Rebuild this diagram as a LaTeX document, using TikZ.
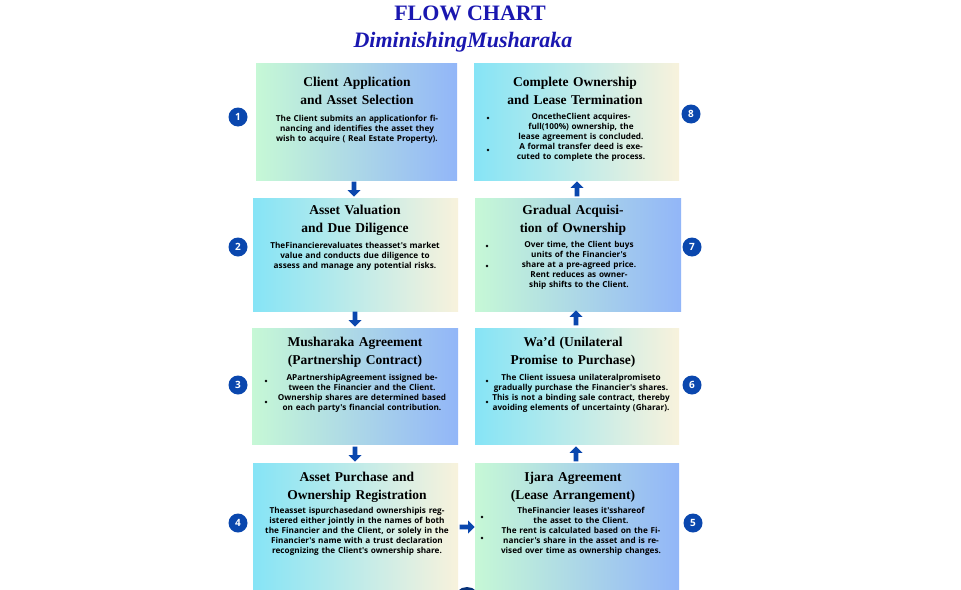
\documentclass[tikz,border=0pt]{standalone}
\usepackage{fontspec}
\setmainfont{Liberation Serif}
\newfontfamily\bodyf{Open Sans}
\usetikzlibrary{shapes.arrows}
\definecolor{gA}{HTML}{C6F8D6}
\definecolor{bA}{HTML}{92B6F8}
\definecolor{cA}{HTML}{86E4F6}
\definecolor{yA}{HTML}{F8F2DC}
\definecolor{navy}{HTML}{0A47AE}
\definecolor{ttl}{HTML}{1A17B0}
\begin{document}
\begin{tikzpicture}[x=1pt,y=-1pt,
 gb/.style={left color=gA,right color=bA},
 cy/.style={left color=cA,right color=yA},
 box/.style={draw=none,inner sep=0,anchor=north west},
 head/.style={anchor=north,align=center,font=\bfseries\fontsize{13.5}{18}\selectfont,text width=195pt,inner sep=0},
 body/.style={anchor=north,align=center,font=\bodyf\bfseries\fontsize{8.2}{10}\selectfont,text width=#1,inner sep=0},
 num/.style={circle,fill=navy,text=white,minimum size=19pt,inner sep=0,font=\bodyf\bfseries\fontsize{10}{10}\selectfont},
 dar/.style={single arrow,fill=navy,draw=none,minimum width=13pt,single arrow head extend=2pt,minimum height=15pt,inner sep=1pt,shape border rotate=270},
 uar/.style={dar,shape border rotate=90},
 rar/.style={dar,shape border rotate=0},
 bul/.style={circle,fill=black,inner sep=0,minimum size=2.6pt}]
\useasboundingbox (0,0) rectangle (961,589);
\fill[white] (0,0) rectangle (961,589);
\node[font=\bfseries\fontsize{22}{24}\selectfont,text=ttl] (t) at (470,13) {FLOW CHART};
\node[font=\bfseries\itshape\fontsize{22}{24}\selectfont,text=ttl] (st) at (463,42) {DiminishingMusharaka};
% boxes
\node[box,gb,minimum width=201pt,minimum height=117pt] (b1) at (256,63) {};
\node[box,cy,minimum width=205pt,minimum height=113pt] (b2) at (253,198) {};
\node[box,gb,minimum width=206pt,minimum height=116pt] (b3) at (252,328) {};
\node[box,cy,minimum width=205pt,minimum height=126pt] (b4) at (253,463) {};
\node[box,cy,minimum width=205pt,minimum height=117pt] (b8) at (474,63) {};
\node[box,gb,minimum width=206pt,minimum height=113pt] (b7) at (475,198) {};
\node[box,cy,minimum width=204pt,minimum height=116pt] (b6) at (475,328) {};
\node[box,gb,minimum width=204pt,minimum height=126pt] (b5) at (475,463) {};
% texts
\node[head] (h1) at (357,77) {Client Application and Asset Selection};
\node[body=190pt] (x1) at (357,115) {The Client submits an applicationfor financing and identifies the asset they wish to acquire ( Real Estate Property).};
\node[head] (h2) at (355,205) {Asset Valuation and Due Diligence};
\node[body=180pt] (x2) at (355,242) {TheFinancierevaluates theasset's market value and conducts due diligence to assess and manage any potential risks.};
\node[head] (h3) at (355,337) {Musharaka Agreement (Partnership Contract)};
\node[body=180pt] (x3) at (362,374) {APartnershipAgreement issigned between the Financier and the Client.\\Ownership shares are determined based on each party's financial contribution.};
\node[head] (h4) at (357,472) {Asset Purchase and Ownership Registration};
\node[body=192pt] (x4) at (357,507) {Theasset ispurchasedand ownershipis registered either jointly in the names of both the Financier and the Client, or solely in the Financier's name with a trust declaration recognizing the Client's ownership share.};
\node[head] (h8) at (575,77) {Complete Ownership and Lease Termination};
\node[body=160pt] (x8) at (581,113) {OncetheClient acquiresfull(100\%) ownership, the lease agreement is concluded.\\A formal transfer deed is executed to complete the process.};
\node[head] (h7) at (573,205) {Gradual Acquisition of Ownership};
\node[body=160pt] (x7) at (579,241) {Over time, the Client buys units of the Financier's share at a pre-agreed price.\\Rent reduces as ownership shifts to the Client.};
\node[head] (h6) at (573,337) {Wa'd (Unilateral Promise to Purchase)};
\node[body=180pt] (x6) at (581,374) {The Client issuesa unilateralpromiseto gradually purchase the Financier's shares.\\This is not a binding sale contract, thereby avoiding elements of uncertainty (Gharar).};
\node[head] (h5) at (573,472) {Ijara Agreement (Lease Arrangement)};
\node[body=185pt] (x5) at (581,507) {TheFinancier leases it'sshareof the asset to the Client.\\The rent is calculated based on the Financier's share in the asset and is revised over time as ownership changes.};
% bullets
\foreach \n/\x/\y in {a/266/381,b/266/402,c/488/118,d/488/150,e/487/246,f/487/266,g/487/381,h/487/402,i/482/517,j/482/538}
 \node[bul] (d\n) at (\x,\y) {};
% numbers
\node[num] (n1) at (238,117) {1};
\node[num] (n2) at (238,247) {2};
\node[num] (n3) at (238,385) {3};
\node[num] (n4) at (238,523) {4};
\node[num] (n5) at (693,523) {5};
\node[num] (n6) at (692,385) {6};
\node[num] (n7) at (692,247) {7};
\node[num] (n8) at (691,114) {8};
\node[circle,fill=navy!70!black,minimum size=26pt] (n9) at (467,600) {};
% arrows
\node[dar] (a12) at (354,188) {};
\node[dar] (a23) at (355,318) {};
\node[dar] (a34) at (355,453) {};
\node[rar] (a45) at (466,527) {};
\node[uar] (a56) at (576,455) {};
\node[uar] (a67) at (576,319) {};
\node[uar] (a78) at (577,190) {};
\end{tikzpicture}
\end{document}
